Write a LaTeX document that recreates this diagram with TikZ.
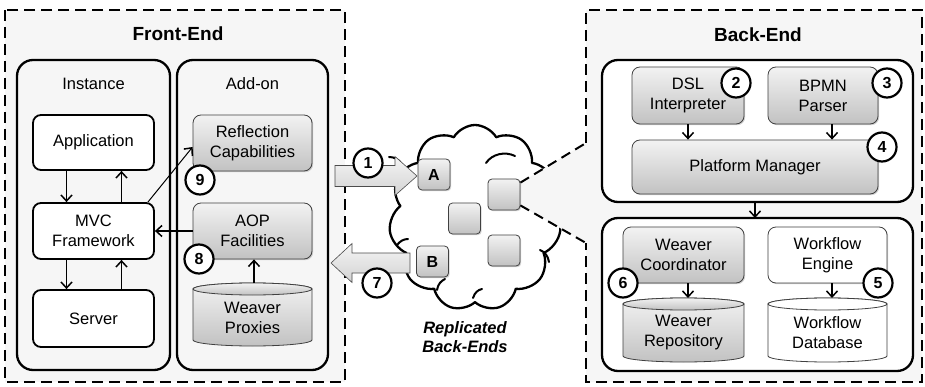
\documentclass[tikz,border=0pt]{standalone}
\usepackage{fontspec}
\setmainfont{Liberation Sans}
\usetikzlibrary{arrows.meta,shapes.symbols,shadows,calc}
\newcommand{\lbl}{\fontsize{16.5}{20}\selectfont}
\newcommand{\ttl}{\fontsize{19}{22}\selectfont\bfseries}
\tikzset{
  frame/.style={draw, line width=2.8pt, dash pattern=on 11pt off 6pt},
  wedge/.style={draw, line width=2pt, dash pattern=on 10pt off 6pt},
  group/.style={draw, line width=2.3pt, rounded corners=16pt},
  wbox/.style={draw, line width=1.8pt, rounded corners=8pt, fill=white, align=center, font=\lbl, inner sep=0pt},
  gbox/.style={draw=black!75, line width=0.8pt, rounded corners=8pt, top color=gray!10, bottom color=gray!48, align=center, font=\lbl, inner sep=0pt,
     drop shadow={shadow xshift=1.2pt, shadow yshift=-1.2pt, opacity=0.35}},
  tbox/.style={draw=black!75, line width=0.8pt, rounded corners=8pt, fill=white, align=center, font=\lbl, inner sep=0pt,
     drop shadow={shadow xshift=1.2pt, shadow yshift=-1.2pt, opacity=0.35}},
  sbox/.style={gbox, rounded corners=4pt, minimum width=32pt, minimum height=31pt, font=\fontsize{16}{16}\selectfont\bfseries},
  num/.style={circle, draw, line width=2.2pt, fill=white, font=\fontsize{16}{16}\selectfont\bfseries, inner sep=0pt, minimum size=29pt},
  arr/.style={-{Straight Barb[length=6pt,width=11pt,line width=1.5pt]}, line width=1.4pt},
  blockarrow/.style={draw=black!70, line width=0.6pt, top color=gray!8, bottom color=gray!35},
  cylg/.style={draw=black!75, line width=0.8pt, top color=gray!10, bottom color=gray!48},
  cylw/.style={draw=black!75, line width=0.8pt, fill=white},
  curl/.style={line width=2pt, line cap=round},
}
% name, cx, rx, ytop (ellipse centre), ybot (ellipse centre), style, text
\newcommand{\mycyl}[7]{%
  \path[#6] ({#2-#3},#4) -- ({#2-#3},#5) arc[start angle=180, end angle=360, x radius=#3pt, y radius=6pt]
     -- ({#2+#3},#4) arc[start angle=0, end angle=180, x radius=#3pt, y radius=6pt] -- cycle;
  \draw[#6] (#2,#4) ellipse[x radius=#3pt, y radius=6pt];
  \node[align=center, font=\lbl, inner sep=0pt, minimum width={2*#3pt}, minimum height={#5-#4}] (#1) at (#2,{(#4+#5)/2+3}) {#7};
}
\begin{document}
\begin{tikzpicture}[x=1pt,y=-1pt]
\useasboundingbox (0,0) rectangle (925,387);
\fill[white] (0,0) rectangle (925,387);

% ---------------- Front-End
\path[frame, fill=gray!7] (5,10) rectangle (345,382);
\node[font=\ttl] (fetitle) at (178,34) {Front-End};
\path[group, fill=gray!7] (17,60) rectangle (170,370);
\path[group, fill=gray!7] (177,60) rectangle (328,370);
\node[font=\lbl] (inst) at (93.5,84) {Instance};
\node[font=\lbl] (addon) at (252.5,84) {Add-on};

\node[wbox, minimum width=121pt, minimum height=55pt] (app) at (93.5,142.5) {Application};
\node[wbox, minimum width=121pt, minimum height=56pt] (mvc) at (93.5,231) {MVC\\Framework};
\node[wbox, minimum width=121pt, minimum height=57pt] (srv) at (93.5,318.5) {Server};

\node[gbox, minimum width=119pt, minimum height=56pt] (refl) at (252.5,143) {Reflection\\Capabilities};
\node[gbox, minimum width=119pt, minimum height=56pt] (aop) at (252.5,231) {AOP\\Facilities};
\mycyl{prox}{252.5}{59.5}{289}{340}{cylg}{Weaver\\Proxies}

\draw[arr] ([xshift=-27pt]app.south) -- ([xshift=-27pt]mvc.north);
\draw[arr] ([xshift=28pt]mvc.north) -- ([xshift=28pt]app.south);
\draw[arr] ([xshift=-27pt]mvc.south) -- ([xshift=-27pt]srv.north);
\draw[arr] ([xshift=28pt]srv.north) -- ([xshift=28pt]mvc.south);
\draw[arr, line width=1pt] ([xshift=-7pt]mvc.north east) -- ([yshift=-4pt]refl.west);
\draw[arr] (aop.west) -- (mvc.east);
\coordinate (proxtop) at (254,283);
\draw[arr] (proxtop) -- (proxtop |- aop.south);

\node[num] (n9) at (200,180) {9};
\node[num] (n8) at (199,259) {8};

% cloud
\node[cloud, draw, line width=2.3pt, line join=round, fill=white, cloud puffs=11, cloud puff arc=120, aspect=0.92,
      minimum width=172pt, minimum height=186pt, inner sep=0pt] (cloud) at (475,218) {};
% inner curls of the cloud
\draw[curl] (389,157) .. controls (394,157) and (398,159) .. (401,163);
\draw[curl] (397,245) .. controls (400,241) and (404,239) .. (408,239);
\draw[curl] (486,163) .. controls (492,154) and (505,151) .. (515,156);
\draw[curl] (530,192) .. controls (538,190) and (545,195) .. (547,203);
\draw[curl] (540,250) .. controls (545,252) and (548,256) .. (549,262);
\draw[curl] (437,290) .. controls (438,284) and (441,281) .. (445,279);
\draw[curl] (473,298) .. controls (475,292) and (478,290) .. (482,289);

% ---------------- Back-End region (including the zoom wedge)
\path[fill=gray!7] (586,10) -- (922,10) -- (922,382) -- (586,382) -- (586,243) -- (520,205) -- (520,183) -- (586,143) -- cycle;

\node[sbox] (ba) at (434,174.5) {A};
\node[sbox] (bb) at (432.5,261.5) {B};
\node[sbox] (bc) at (464.5,218.5) {};
\node[sbox] (bd) at (504,194.5) {};
\node[sbox] (be) at (504,250.5) {};

\node[font=\fontsize{16.5}{19}\selectfont\bfseries\itshape, align=center] (repl) at (465,337.5) {Replicated\\Back-Ends};

% dashed outline of back-end
\draw[frame] (586,143) -- (586,10) -- (922,10) -- (922,382) -- (586,382) -- (586,243);
\coordinate (w1) at (586,143);
\coordinate (w2) at (586,243);
\draw[wedge] ([yshift=-4pt]bd.north east) -- (w1);
\draw[wedge] ([yshift=5pt]bd.south east) -- (w2);

% block arrows
\path[blockarrow] (335,165.5) -- (395,165.5) -- (395,156.5) -- (417,176) -- (395,195.5) -- (395,186.5) -- (335,186.5) -- cycle;
\path[blockarrow] (410,253) -- (352,253) -- (352,243.5) -- (331,263) -- (352,282.5) -- (352,273) -- (410,273) -- cycle;
\node[num] (n1) at (368,163) {1};
\node[num] (n7) at (377,283) {7};

\node[font=\ttl] (betitle) at (758,35) {Back-End};
\path[group, fill=white] (602,60) rectangle (913,202);
\path[group, fill=white] (602,218) rectangle (913,371);
\coordinate (topg) at (755,202);
\coordinate (botg) at (755,218);
\draw[arr] (topg) -- (botg);

\node[gbox, minimum width=112pt, minimum height=57pt] (dsl) at (688,95.5) {DSL\\Interpreter};
\node[gbox, minimum width=110pt, minimum height=57pt] (bpmn) at (823,95.5) {BPMN\\Parser};
\node[gbox, minimum width=246pt, minimum height=54pt] (pm) at (755,167) {Platform Manager};
\draw[arr] (dsl.south) -- (dsl.south |- pm.north);
\draw[arr] ([xshift=9pt]bpmn.south) -- ([xshift=9pt]bpmn.south |- pm.north);

\node[gbox, minimum width=121pt, minimum height=56pt] (wc) at (683.5,255) {Weaver\\Coordinator};
\node[tbox, minimum width=119pt, minimum height=56pt] (we) at (827.5,255) {Workflow\\Engine};
\mycyl{wr}{683.5}{60.5}{304}{356}{cylg}{Weaver\\Repository}
\mycyl{wd}{827.5}{59.5}{304}{356}{cylw}{Workflow\\Database}
\draw[arr] ([xshift=4.5pt]wc.south) -- ([xshift=4.5pt]wc.south |- 0,298);
\draw[arr] ([xshift=4.5pt]we.south) -- ([xshift=4.5pt]we.south |- 0,298);

\node[num] (n2) at (736,83) {2};
\node[num] (n3) at (887,83) {3};
\node[num] (n4) at (882,147) {4};
\node[num] (n6) at (623,283) {6};
\node[num] (n5) at (878,283) {5};
\end{tikzpicture}
\end{document}
